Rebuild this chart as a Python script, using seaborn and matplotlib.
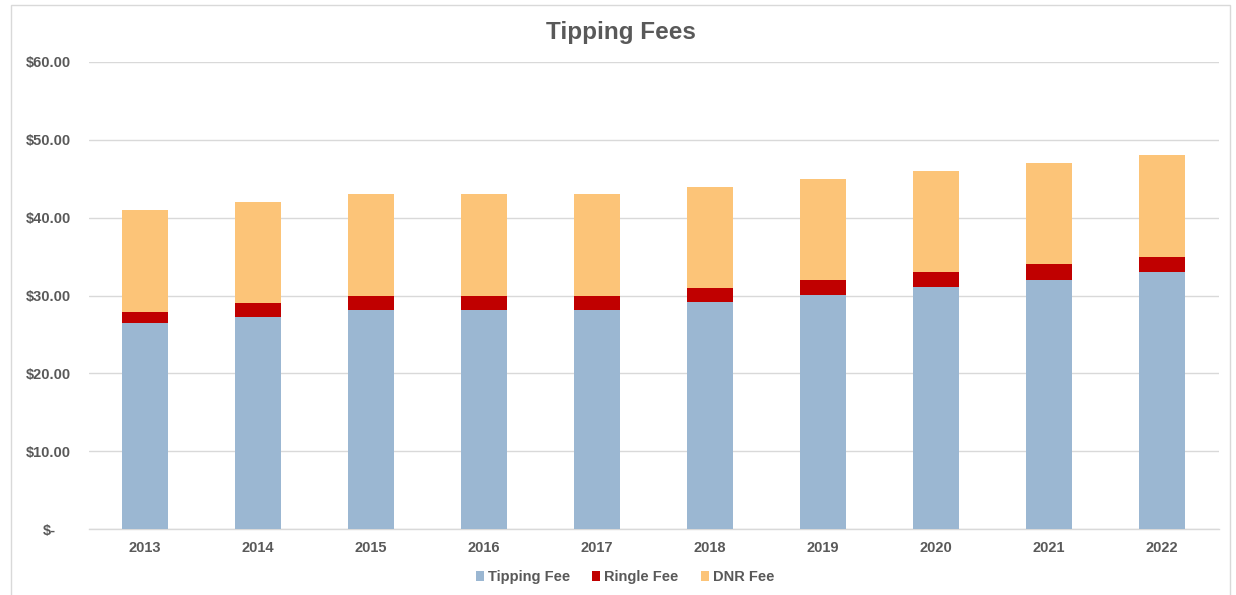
import numpy as np, pandas as pd
import matplotlib
matplotlib.use("Agg")
import matplotlib.pyplot as plt
import matplotlib.transforms as mtransforms
from matplotlib.patches import Patch, Rectangle
import seaborn as sns

years = ["2013", "2014", "2015", "2016", "2017", "2018", "2019", "2020", "2021", "2022"]
tipping_fee = [26.45, 27.25, 28.2, 28.2, 28.2, 29.15, 30.05, 31.05, 32.05, 33.0]
ringle_fee = [1.45, 1.75, 1.8, 1.8, 1.8, 1.85, 1.95, 1.95, 1.95, 2.0]
dnr_fee = [13.1, 13.0, 13.0, 13.0, 13.0, 13.0, 13.0, 13.0, 13.0, 13.0]
series = ["Tipping Fee", "Ringle Fee", "DNR Fee"]
colors = ["#9bb7d2", "#c00000", "#fcc478"]
ytick_vals = [0, 10, 20, 30, 40, 50, 60]

GREY = "#595959"

sns.set_theme(style="white")
plt.rcParams["font.family"] = ["Liberation Sans", "DejaVu Sans"]
plt.rcParams["font.weight"] = "bold"

df = pd.DataFrame({"year": years, "Tipping Fee": tipping_fee,
                   "Ringle Fee": ringle_fee, "DNR Fee": dnr_fee})
df["tip_top"] = df["Tipping Fee"]
df["ringle_top"] = df["tip_top"] + df["Ringle Fee"]
df["dnr_top"] = df["ringle_top"] + df["DNR Fee"]

fig = plt.figure(figsize=(12.36, 5.95), dpi=100)
ax = fig.add_axes([88.5 / 1236, 1 - 529 / 595, 1130 / 1236, 467 / 595])

# stacked by overdrawing cumulative heights, tallest first
for col, c in zip(["dnr_top", "ringle_top", "tip_top"], colors[::-1]):
    sns.barplot(data=df, x="year", y=col, color=c, width=0.4, ax=ax,
                saturation=1, zorder=3, linewidth=0)

ax.set_xlim(-0.5, len(years) - 0.5)
ax.set_ylim(0, 60)
ax.set_yticks(ytick_vals)
ylabels = ["$-" if v == 0 else f"${v:.2f}" for v in ytick_vals]
ax.set_yticklabels(ylabels)
ax.set_xlabel(""); ax.set_ylabel("")
ax.grid(axis="y", color="#d9d9d9", lw=1, zorder=0)
ax.grid(axis="x", visible=False)
for s in ["top", "right", "left"]:
    ax.spines[s].set_visible(False)
ax.spines["bottom"].set_color("#d9d9d9")
ax.spines["bottom"].set_linewidth(1)
ax.tick_params(axis="y", length=0, pad=12.5, labelsize=10.5, labelcolor=GREY)
ax.tick_params(axis="x", length=0, pad=8.5, labelsize=10.5, labelcolor=GREY)
for lab in ax.get_yticklabels():
    lab.set_fontweight("bold")
    if lab.get_text() == "$-":
        lab.set_transform(lab.get_transform() +
                          mtransforms.ScaledTranslation(-0.15, 0, fig.dpi_scale_trans))
for lab in ax.get_xticklabels():
    lab.set_fontweight("bold")

fig.text(621 / 1236, 1 - 33 / 595, "Tipping Fees", ha="center", va="center",
         fontsize=17.5, fontweight="bold", color=GREY)

handles = [Patch(facecolor=c, edgecolor="none") for c in colors]
fig.legend(handles, series, loc="center", bbox_to_anchor=(625 / 1236, 1 - 577 / 595),
           ncol=3, frameon=False, fontsize=10.5, handlelength=0.55, handleheight=0.7,
           handletextpad=0.3, columnspacing=1.5, labelcolor=GREY)

fig.patches.append(Rectangle((11 / 1236, -0.01), 1219 / 1236, 1 - 5 / 595 + 0.01,
                             transform=fig.transFigure, fill=False,
                             edgecolor="#d9d9d9", lw=1))

fig.savefig("out.png", dpi=100, facecolor="white")
